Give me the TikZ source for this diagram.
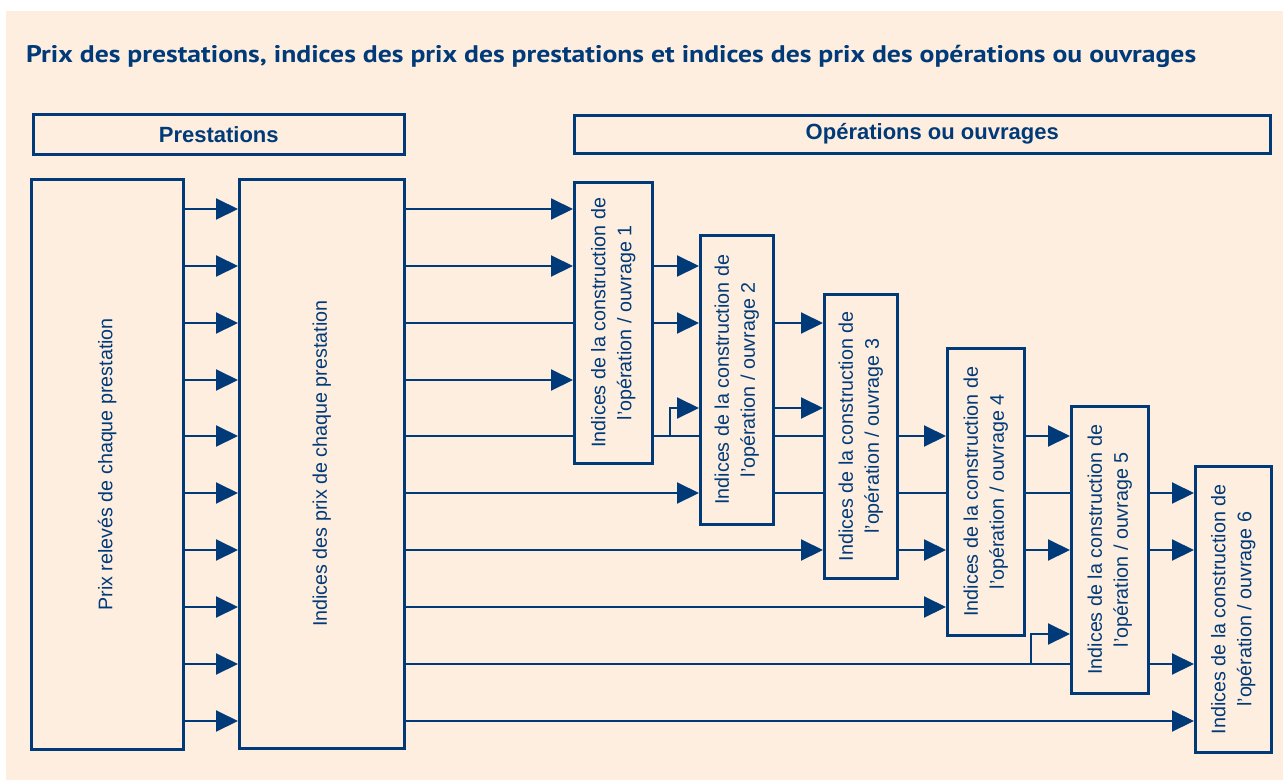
\documentclass[tikz,border=0pt]{standalone}
\usepackage{fontspec}
\usepackage{graphicx}
\setmainfont{Liberation Sans}
\newfontfamily\titlefont{PT Sans}
\usetikzlibrary{arrows.meta}
\definecolor{navy}{HTML}{003A78}
\definecolor{peach}{HTML}{FDEEE0}
\newcommand\vtext[1]{\rotatebox{90}{\begin{tabular}{@{}c@{}}#1\end{tabular}}}
\begin{document}
\begin{tikzpicture}[x=1pt,y=-1pt,
  box/.style={draw=navy, line width=2.5pt, inner sep=0pt, anchor=north west, text=navy,
              font=\fontsize{19.7}{26}\selectfont},
  headbox/.style={box, font=\fontsize{22}{26}\selectfont\bfseries},
  conn/.style={draw=navy, line width=2pt},
  arr/.style={conn, -{Triangle[length=22pt,width=21pt]}}]
\useasboundingbox (0,0) rectangle (1283,780);
\fill[white] (0,0) rectangle (1283,780);
\fill[peach] (6,11) rectangle (1283,780);

% title
\node[anchor=base west, inner sep=0pt, text=navy] (title) at (26,62)
  {\resizebox{1170pt}{\height}{\titlefont\bfseries\fontsize{24}{28}\selectfont Prix des prestations, indices des prix des prestations et indices des prix des opérations ou ouvrages}};

% headers
\node[headbox, minimum width=371pt, minimum height=40pt] (hp) at (32,113) {Prestations};
\node[headbox, minimum width=696pt, minimum height=38pt] (ho) at (573,114) {\hspace*{20pt}Opérations ou ouvrages};

% main boxes
\node[box, minimum width=152pt, minimum height=570pt] (A) at (30,178) {\vtext{Prix relevés de chaque prestation}};
\node[box, minimum width=165pt, minimum height=569pt] (B) at (238,178) {\vtext{Indices des prix de chaque prestation}};

\node[box, minimum width=78pt, minimum height=281pt] (O1) at (573,181) {\vtext{Indices de la construction de\\l’opération / ouvrage 1}};
\node[box, minimum width=73pt, minimum height=289pt] (O2) at (699,234) {\vtext{Indices de la construction de\\l’opération / ouvrage 2}};
\node[box, minimum width=73pt, minimum height=284pt] (O3) at (823,293) {\vtext{Indices de la construction de\\l’opération / ouvrage 3}};
\node[box, minimum width=77pt, minimum height=287pt] (O4) at (946,347) {\vtext{Indices de la construction de\\l’opération / ouvrage 4}};
\node[box, minimum width=77pt, minimum height=287pt] (O5) at (1070,405) {\vtext{Indices de la construction de\\l’opération / ouvrage 5}};
\node[box, minimum width=76pt, minimum height=286pt] (O6) at (1194,465) {\vtext{Indices de la construction de\\l’opération / ouvrage 6}};

% levels
\coordinate (y1) at (0,209);
\coordinate (y2) at (0,266);
\coordinate (y3) at (0,323);
\coordinate (y4) at (0,380);
\coordinate (y5) at (0,436);
\coordinate (y6) at (0,493);
\coordinate (y7) at (0,550);
\coordinate (y8) at (0,607);
\coordinate (y9) at (0,664);
\coordinate (y10) at (0,721);
\coordinate (ya) at (0,408);
\coordinate (yb) at (0,634);
\coordinate (bx1) at (670,0);
\coordinate (bx2) at (1031,0);

% A -> B
\foreach \k in {1,...,10} {
  \draw[arr] (A.east |- y\k) -- (B.west |- y\k);
}

% B -> O1
\draw[arr] (B.east |- y1) -- (O1.west |- y1);
\draw[arr] (B.east |- y2) -- (O1.west |- y2);
\draw[conn] (B.east |- y3) -- (O1.west |- y3);
\draw[arr] (B.east |- y4) -- (O1.west |- y4);
\draw[conn] (B.east |- y5) -- (O1.west |- y5);

% O1 -> O2
\draw[arr] (O1.east |- y2) -- (O2.west |- y2);
\draw[arr] (O1.east |- y3) -- (O2.west |- y3);
\draw[conn] (O1.east |- y5) -- (O2.west |- y5);
\draw[arr] (bx1 |- y5) |- (O2.west |- ya);
\draw[arr] (B.east |- y6) -- (O2.west |- y6);

% O2 -> O3
\draw[arr] (O2.east |- y3) -- (O3.west |- y3);
\draw[arr] (O2.east |- ya) -- (O3.west |- ya);
\draw[conn] (O2.east |- y5) -- (O3.west |- y5);
\draw[conn] (O2.east |- y6) -- (O3.west |- y6);
\draw[arr] (B.east |- y7) -- (O3.west |- y7);

% O3 -> O4
\draw[arr] (O3.east |- y5) -- (O4.west |- y5);
\draw[conn] (O3.east |- y6) -- (O4.west |- y6);
\draw[arr] (O3.east |- y7) -- (O4.west |- y7);
\draw[arr] (B.east |- y8) -- (O4.west |- y8);

% O4 -> O5
\draw[arr] (O4.east |- y5) -- (O5.west |- y5);
\draw[conn] (O4.east |- y6) -- (O5.west |- y6);
\draw[arr] (O4.east |- y7) -- (O5.west |- y7);
\draw[conn] (B.east |- y9) -- (O5.west |- y9);
\draw[arr] (bx2 |- y9) |- (O5.west |- yb);

% O5 -> O6
\draw[arr] (O5.east |- y6) -- (O6.west |- y6);
\draw[arr] (O5.east |- y7) -- (O6.west |- y7);
\draw[arr] (O5.east |- y9) -- (O6.west |- y9);
\draw[arr] (B.east |- y10) -- (O6.west |- y10);
\end{tikzpicture}
\end{document}
